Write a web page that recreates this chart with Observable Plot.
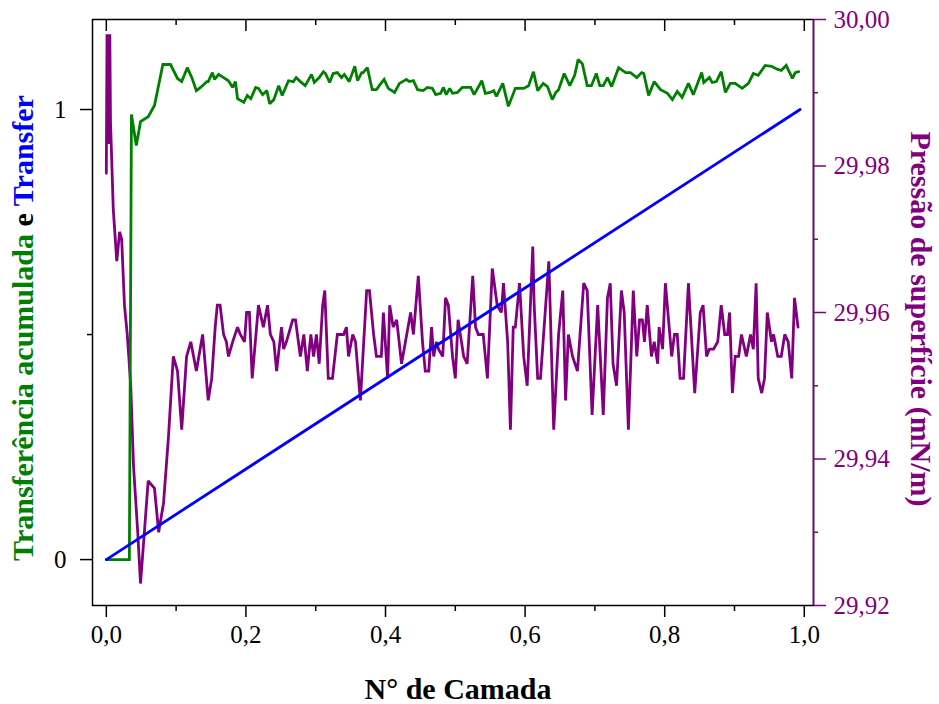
<!DOCTYPE html>
<html>
<head>
<meta charset="utf-8">
<script src="https://cdn.jsdelivr.net/npm/d3@7"></script>
<script src="https://cdn.jsdelivr.net/npm/@observablehq/plot@0.6"></script>
<style>
  body { margin: 0; background: #ffffff; }
  #chart { width: 939px; height: 704px; }
  #chart svg text { font-family: "Liberation Serif", "Tinos", "Times New Roman", "DejaVu Serif", serif !important; }
</style>
</head>
<body>
<div id="chart"></div>
<script>
// ---- Data ----
// Green: Transferência acumulada (left axis)
const greenX = [
  0.000,0.033,0.036,0.043,0.049,0.060,0.069,0.081,0.092,0.102,
  0.108,0.116,0.123,0.129,0.135,0.144,0.146,0.152,0.155,0.161,
  0.168,0.175,0.181,0.185,0.188,0.197,0.202,0.207,0.214,0.218,
  0.224,0.230,0.234,0.240,0.247,0.252,0.261,0.268,0.272,0.278,
  0.285,0.294,0.298,0.305,0.311,0.314,0.320,0.325,0.331,0.337,
  0.341,0.348,0.356,0.360,0.366,0.368,0.374,0.381,0.387,0.391,
  0.398,0.404,0.413,0.420,0.430,0.434,0.440,0.446,0.454,0.460,
  0.467,0.472,0.479,0.483,0.487,0.492,0.496,0.503,0.510,0.522,
  0.527,0.538,0.543,0.550,0.555,0.559,0.568,0.576,0.586,0.598,
  0.605,0.612,0.618,0.626,0.632,0.639,0.644,0.648,0.656,0.664,
  0.671,0.676,0.682,0.689,0.695,0.702,0.707,0.712,0.718,0.724,
  0.734,0.744,0.751,0.760,0.767,0.770,0.777,0.785,0.794,0.804,
  0.811,0.818,0.825,0.834,0.841,0.853,0.856,0.864,0.868,0.874,
  0.881,0.887,0.894,0.901,0.911,0.920,0.927,0.934,0.944,0.953,
  0.962,0.967,0.974,0.983,0.987,0.992
];
const greenY = [
  0.000,0.000,0.989,0.920,0.973,0.984,1.009,1.100,1.100,1.069,
  1.062,1.093,1.069,1.042,1.049,1.062,1.062,1.082,1.067,1.078,
  1.071,1.064,1.049,1.062,1.024,1.016,1.031,1.024,1.049,1.047,
  1.033,1.042,1.013,1.022,1.053,1.031,1.064,1.062,1.071,1.062,
  1.053,1.078,1.060,1.071,1.084,1.080,1.060,1.080,1.082,1.071,
  1.078,1.062,1.096,1.064,1.082,1.082,1.093,1.044,1.044,1.053,
  1.067,1.047,1.038,1.058,1.067,1.062,1.064,1.044,1.042,1.049,
  1.047,1.033,1.036,1.049,1.033,1.047,1.036,1.038,1.049,1.049,
  1.033,1.064,1.036,1.038,1.042,1.029,1.058,1.007,1.047,1.047,
  1.053,1.084,1.042,1.058,1.051,1.022,1.038,1.044,1.080,1.053,
  1.076,1.111,1.102,1.053,1.053,1.080,1.053,1.053,1.071,1.051,
  1.093,1.082,1.082,1.071,1.082,1.080,1.031,1.062,1.044,1.036,
  1.022,1.040,1.027,1.058,1.033,1.082,1.060,1.071,1.060,1.062,
  1.084,1.038,1.058,1.058,1.047,1.058,1.080,1.076,1.098,1.096,
  1.089,1.087,1.098,1.069,1.082,1.084
];
// Blue: Transfer (left axis)
const blueX = [0.000, 0.994];
const blueY = [0.000, 1.000];
// Purple: Pressão de superfície (mN/m) (right axis)
const purpleX = [
  0.000,0.001,0.003,0.005,0.006,0.010,0.015,0.019,0.022,0.026,
  0.030,0.035,0.039,0.045,0.049,0.060,0.069,0.075,0.082,0.089,
  0.096,0.102,0.108,0.115,0.121,0.129,0.138,0.146,0.151,0.156,
  0.159,0.163,0.168,0.172,0.175,0.181,0.188,0.192,0.198,0.201,
  0.205,0.209,0.218,0.225,0.231,0.235,0.240,0.244,0.251,0.254,
  0.258,0.267,0.271,0.278,0.283,0.288,0.293,0.297,0.301,0.305,
  0.310,0.313,0.318,0.324,0.331,0.340,0.344,0.347,0.353,0.357,
  0.364,0.373,0.377,0.383,0.387,0.394,0.397,0.403,0.406,0.411,
  0.416,0.423,0.436,0.440,0.447,0.453,0.457,0.462,0.466,0.469,
  0.473,0.476,0.482,0.486,0.490,0.496,0.500,0.504,0.512,0.517,
  0.525,0.529,0.533,0.540,0.546,0.553,0.560,0.566,0.569,0.575,
  0.579,0.583,0.586,0.592,0.598,0.603,0.611,0.613,0.618,0.622,
  0.634,0.641,0.648,0.654,0.658,0.662,0.668,0.675,0.684,0.689,
  0.696,0.704,0.712,0.718,0.722,0.726,0.731,0.738,0.742,0.748,
  0.755,0.760,0.764,0.768,0.771,0.775,0.781,0.785,0.790,0.792,
  0.797,0.801,0.810,0.814,0.818,0.822,0.827,0.834,0.843,0.851,
  0.855,0.860,0.864,0.870,0.876,0.881,0.886,0.890,0.893,0.897,
  0.901,0.906,0.910,0.917,0.923,0.927,0.931,0.934,0.939,0.943,
  0.947,0.953,0.956,0.962,0.967,0.972,0.977,0.982,0.986,0.991
];
const purpleP = [
  29.979,29.998,29.983,29.998,29.986,29.974,29.967,29.971,29.970,29.961,
  29.957,29.950,29.939,29.930,29.923,29.937,29.936,29.930,29.934,29.943,
  29.954,29.952,29.944,29.954,29.956,29.952,29.957,29.948,29.951,29.958,
  29.961,29.961,29.957,29.956,29.954,29.956,29.958,29.957,29.956,29.960,
  29.960,29.951,29.961,29.958,29.961,29.957,29.956,29.952,29.958,29.955,
  29.956,29.959,29.959,29.954,29.957,29.952,29.957,29.954,29.957,29.953,
  29.961,29.963,29.951,29.951,29.957,29.957,29.958,29.954,29.957,29.956,
  29.948,29.963,29.963,29.957,29.954,29.954,29.960,29.951,29.961,29.958,
  29.959,29.953,29.960,29.957,29.965,29.956,29.952,29.952,29.958,29.954,
  29.956,29.955,29.954,29.962,29.961,29.954,29.951,29.959,29.954,29.953,
  29.965,29.958,29.957,29.957,29.951,29.966,29.961,29.960,29.964,29.956,
  29.944,29.958,29.958,29.964,29.954,29.950,29.969,29.961,29.951,29.951,
  29.967,29.944,29.957,29.963,29.948,29.957,29.954,29.952,29.964,29.963,
  29.946,29.961,29.946,29.962,29.964,29.953,29.950,29.963,29.960,29.944,
  29.963,29.954,29.959,29.959,29.956,29.961,29.954,29.956,29.953,29.958,
  29.955,29.964,29.954,29.957,29.957,29.951,29.951,29.964,29.949,29.960,
  29.961,29.954,29.955,29.955,29.956,29.961,29.957,29.957,29.960,29.949,
  29.954,29.954,29.957,29.954,29.957,29.955,29.964,29.951,29.949,29.951,
  29.960,29.956,29.957,29.954,29.954,29.957,29.956,29.951,29.962,29.958
];
// Ticks
const xMajorTicks = [0, 0.2, 0.4, 0.6, 0.8, 1.0];
const xMinorTicks = [0.1, 0.3, 0.5, 0.7, 0.9];
const yMajorTicks = [0, 1];
const yMinorTicks = [0.5];
const pMajorTicks = [29.92, 29.94, 29.96, 29.98, 30.00];
const pMinorTicks = [29.93, 29.95, 29.97, 29.99];
// Texts
const xTitle = "N° de Camada";
const yTitleParts = [["Transferência acumulada", "green"], [" e ", "black"], ["Transfer", "blue"]];
const pTitle = "Pressão de superfície (mN/m)";

// ---- Layout / style ----
const W = 939, H = 704;
const mL = 92, mR = 126, mT = 19, mB = 99;
const X_DOMAIN = [-0.0198, 1.0132];
const Y_DOMAIN = [-0.102, 1.2];
const P_DOMAIN = [29.92, 30.00];
const GREEN = "#008000", BLUE = "#0000ff", PURPLE = "#800080";
const FONT = "\"Liberation Serif\", Tinos, \"Times New Roman\", \"DejaVu Serif\", serif";
const frameH = H - mT - mB;

const toY = p => Y_DOMAIN[0] + (p - P_DOMAIN[0]) / (P_DOMAIN[1] - P_DOMAIN[0]) * (Y_DOMAIN[1] - Y_DOMAIN[0]);
const fromY = y => P_DOMAIN[0] + (y - Y_DOMAIN[0]) / (Y_DOMAIN[1] - Y_DOMAIN[0]) * (P_DOMAIN[1] - P_DOMAIN[0]);
const comma = (v, d) => v.toFixed(d).replace(".", ",");

const green = greenX.map((x, i) => ({x, y: greenY[i]}));
const blue = blueX.map((x, i) => ({x, y: blueY[i]}));
const purple = purpleX.map((x, i) => ({x, y: toY(purpleP[i])}));

const lineOpts = {x: "x", y: "y", strokeWidth: 2.8, strokeLinejoin: "miter", strokeMiterlimit: 2};

const plot = Plot.plot({
  width: W, height: H,
  marginLeft: mL, marginRight: mR, marginTop: mT, marginBottom: mB,
  x: {domain: X_DOMAIN},
  y: {domain: Y_DOMAIN},
  style: {fontFamily: FONT, fontSize: "25px", background: "#ffffff", overflow: "visible", color: "black"},
  marks: [
    Plot.line(purple, {...lineOpts, stroke: PURPLE}),
    Plot.line(green, {...lineOpts, stroke: GREEN}),
    Plot.line(blue, {...lineOpts, stroke: BLUE}),
    Plot.frame({stroke: "black", strokeWidth: 1.5}),
    Plot.ruleX([X_DOMAIN[1]], {stroke: PURPLE, strokeWidth: 1.6}),
    // bottom axis (outward ticks)
    Plot.axisX(xMajorTicks, {anchor: "bottom", tickSize: 12, tickPadding: 8, strokeWidth: 1.5,
      tickFormat: d => comma(d, 1), fontSize: 25, fontFamily: FONT, label: null}),
    Plot.axisX(xMinorTicks, {anchor: "bottom", tickSize: 6, strokeWidth: 1.5, tickFormat: () => "", label: null}),
    // top inward ticks
    Plot.ruleX(xMajorTicks, {insetBottom: frameH - 12, stroke: "black", strokeWidth: 1.5}),
    Plot.ruleX(xMinorTicks, {insetBottom: frameH - 6, stroke: "black", strokeWidth: 1.5}),
    // left axis
    Plot.axisY(yMajorTicks, {anchor: "left", tickSize: 12, tickPadding: 14, strokeWidth: 1.5,
      tickFormat: d => String(d), fontSize: 25, fontFamily: FONT, label: null}),
    Plot.axisY(yMinorTicks, {anchor: "left", tickSize: 5, strokeWidth: 1.5, tickFormat: () => "", label: null}),
    // right axis (pressure)
    Plot.axisY(pMajorTicks.map(toY), {anchor: "right", tickSize: 12, tickPadding: 8, strokeWidth: 1.5,
      color: PURPLE, tickFormat: d => comma(fromY(d), 2), fontSize: 25, fontFamily: FONT, label: null}),
    Plot.axisY(pMinorTicks.map(toY), {anchor: "right", tickSize: 4, strokeWidth: 1.5,
      color: PURPLE, tickFormat: () => "", label: null})
  ]
});

document.getElementById("chart").appendChild(plot);

// ---- Titles as real text ----
const svg = d3.select(plot);
const lt = svg.append("text")
  .attr("transform", "translate(33,328) rotate(-90)")
  .attr("text-anchor", "middle")
  .attr("font-family", FONT).attr("font-size", 30).attr("font-weight", "bold");
yTitleParts.forEach(([t, c]) => {
  lt.append("tspan").attr("fill", c === "green" ? GREEN : c === "blue" ? BLUE : "#000000")
    .style("white-space", "pre").text(t);
});
lt.attr("xml:space", "preserve");
svg.append("text")
  .attr("transform", "translate(911,319) rotate(90)")
  .attr("text-anchor", "middle")
  .attr("fill", PURPLE)
  .attr("font-family", FONT).attr("font-size", 30).attr("font-weight", "bold")
  .text(pTitle);
svg.append("text")
  .attr("x", 458).attr("y", 699)
  .attr("text-anchor", "middle")
  .attr("fill", "#000000")
  .attr("font-family", FONT).attr("font-size", 30).attr("font-weight", "bold")
  .text(xTitle);
</script>
</body>
</html>
